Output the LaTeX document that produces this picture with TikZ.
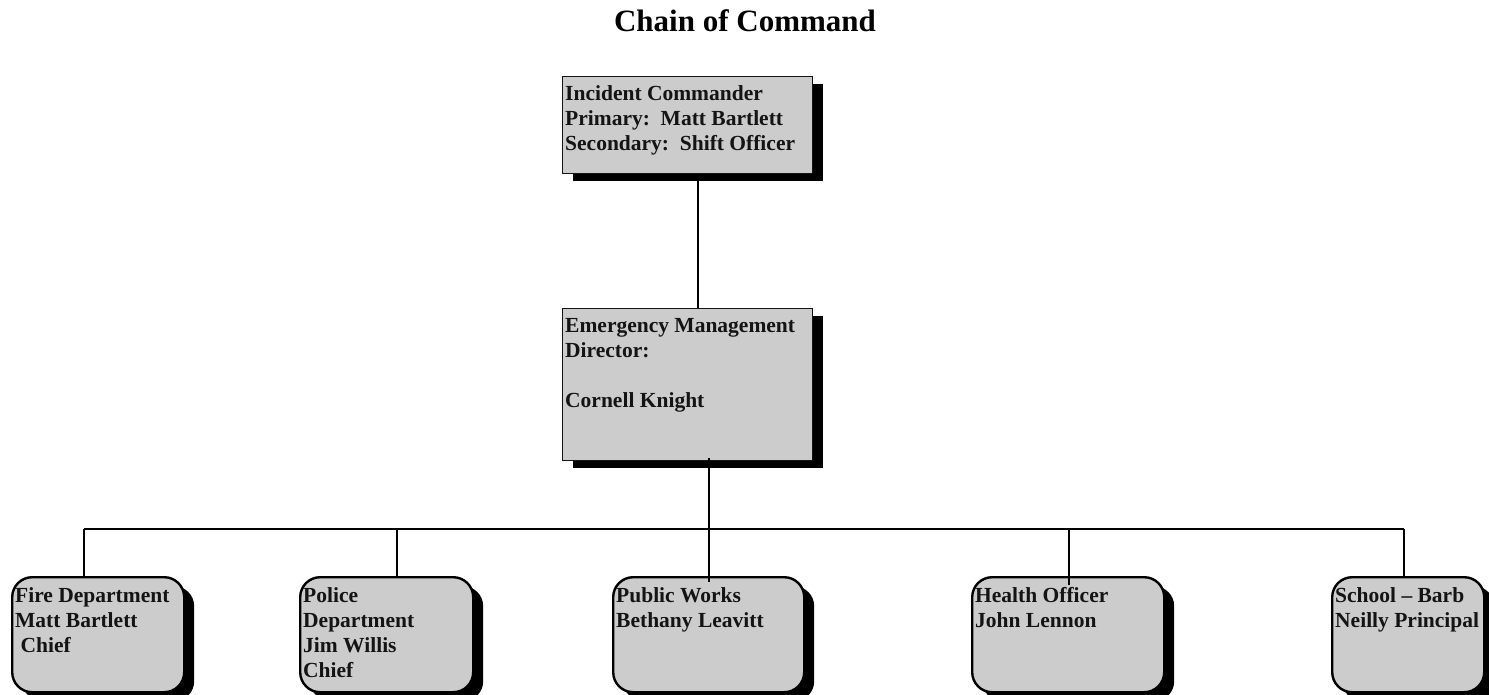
\documentclass[tikz,border=0pt]{standalone}
\usepackage{fontspec}
\setmainfont{Liberation Serif}
\usetikzlibrary{shadows}
\definecolor{boxgray}{HTML}{CCCCCC}
\definecolor{ink}{HTML}{141414}
\tikzset{
  base/.style={inner sep=0pt, anchor=north west},
  sqbox/.style={base, rectangle, draw=ink, line width=1.4pt, fill=boxgray,
    drop shadow={shadow xshift=10pt, shadow yshift=-7pt, opacity=1, fill=black}},
  rdbox/.style={base, rectangle, rounded corners=20pt, draw=black, line width=2.4pt, fill=boxgray,
    minimum height=115pt,
    drop shadow={shadow xshift=10pt, shadow yshift=-9pt, opacity=1, fill=black}},
  boxtext/.style={base, align=left, text=ink, font=\fontsize{21.5}{25}\selectfont\bfseries},
  conn/.style={draw=black, line width=1.6pt},
  titletext/.style={inner sep=0pt, anchor=base, font=\fontsize{31}{36}\selectfont\bfseries}
}
\begin{document}
\begin{tikzpicture}[x=1pt, y=-1pt]
\useasboundingbox (0,0) rectangle (1489,695);

\node[titletext] (title) at (745,32) {Chain of Command};

% top and middle boxes
\node[sqbox, minimum width=250pt, minimum height=97pt] (ic) at (562,76) {};
\node[boxtext] (ic-t) at ([shift={(3,6)}]ic.north west)
  {\rule{0pt}{18pt}Incident Commander\\Primary:\ \ Matt Bartlett\\Secondary:\ \ Shift Officer};

\node[sqbox, minimum width=250pt, minimum height=152pt] (em) at (562,308) {};
\node[boxtext] (em-t) at ([shift={(3,6)}]em.north west)
  {\rule{0pt}{18pt}Emergency Management\\Director:\\[25pt]Cornell Knight};

% bottom boxes
\node[rdbox, minimum width=172pt] (fd) at (11,576) {};
\node[rdbox, minimum width=173pt] (pd) at (299,576) {};
\node[rdbox, minimum width=191pt] (pw) at (612,576) {};
\node[rdbox, minimum width=192pt] (ho) at (971,576) {};
\node[rdbox, minimum width=152pt] (sc) at (1331,576) {};

\node[boxtext] (fd-t) at ([shift={(4,8)}]fd.north west)
  {\rule{0pt}{18pt}Fire Department\\Matt Bartlett\\\hspace{5.5pt}Chief};
\node[boxtext] (pd-t) at ([shift={(4,8)}]pd.north west)
  {\rule{0pt}{18pt}Police\\Department\\Jim Willis\\Chief};
\node[boxtext] (pw-t) at ([shift={(4,8)}]pw.north west)
  {\rule{0pt}{18pt}Public Works\\Bethany Leavitt};
\node[boxtext] (ho-t) at ([shift={(4,8)}]ho.north west)
  {\rule{0pt}{18pt}Health Officer\\John Lennon};
\node[boxtext] (sc-t) at ([shift={(4,8)}]sc.north west)
  {\rule{0pt}{18pt}School -- Barb\\Neilly Principal};

% connectors
\coordinate (bus) at (0,529);
\draw[conn] ([xshift=10pt,yshift=-7pt]ic.south) -- ([xshift=10pt]em.north);
\draw[conn] ([xshift=21pt,yshift=3pt]em.south) -- ([xshift=21pt,yshift=3pt]em.south |- pw.north) -- ++(0,9);
\draw[conn] ([xshift=-14pt]fd.north |- bus) -- ([xshift=-4pt]sc.north |- bus);
\draw[conn] ([xshift=-14pt]fd.north |- bus) -- ([xshift=-14pt]fd.north);
\draw[conn] ([xshift=10.5pt]pd.north |- bus) -- ([xshift=10.5pt]pd.north);
\draw[conn] ([xshift=1pt]ho.north |- bus) -- ([xshift=1pt,yshift=-9pt]ho.north);
\draw[conn] ([xshift=-4pt]sc.north |- bus) -- ([xshift=-4pt]sc.north);
\end{tikzpicture}
\end{document}
